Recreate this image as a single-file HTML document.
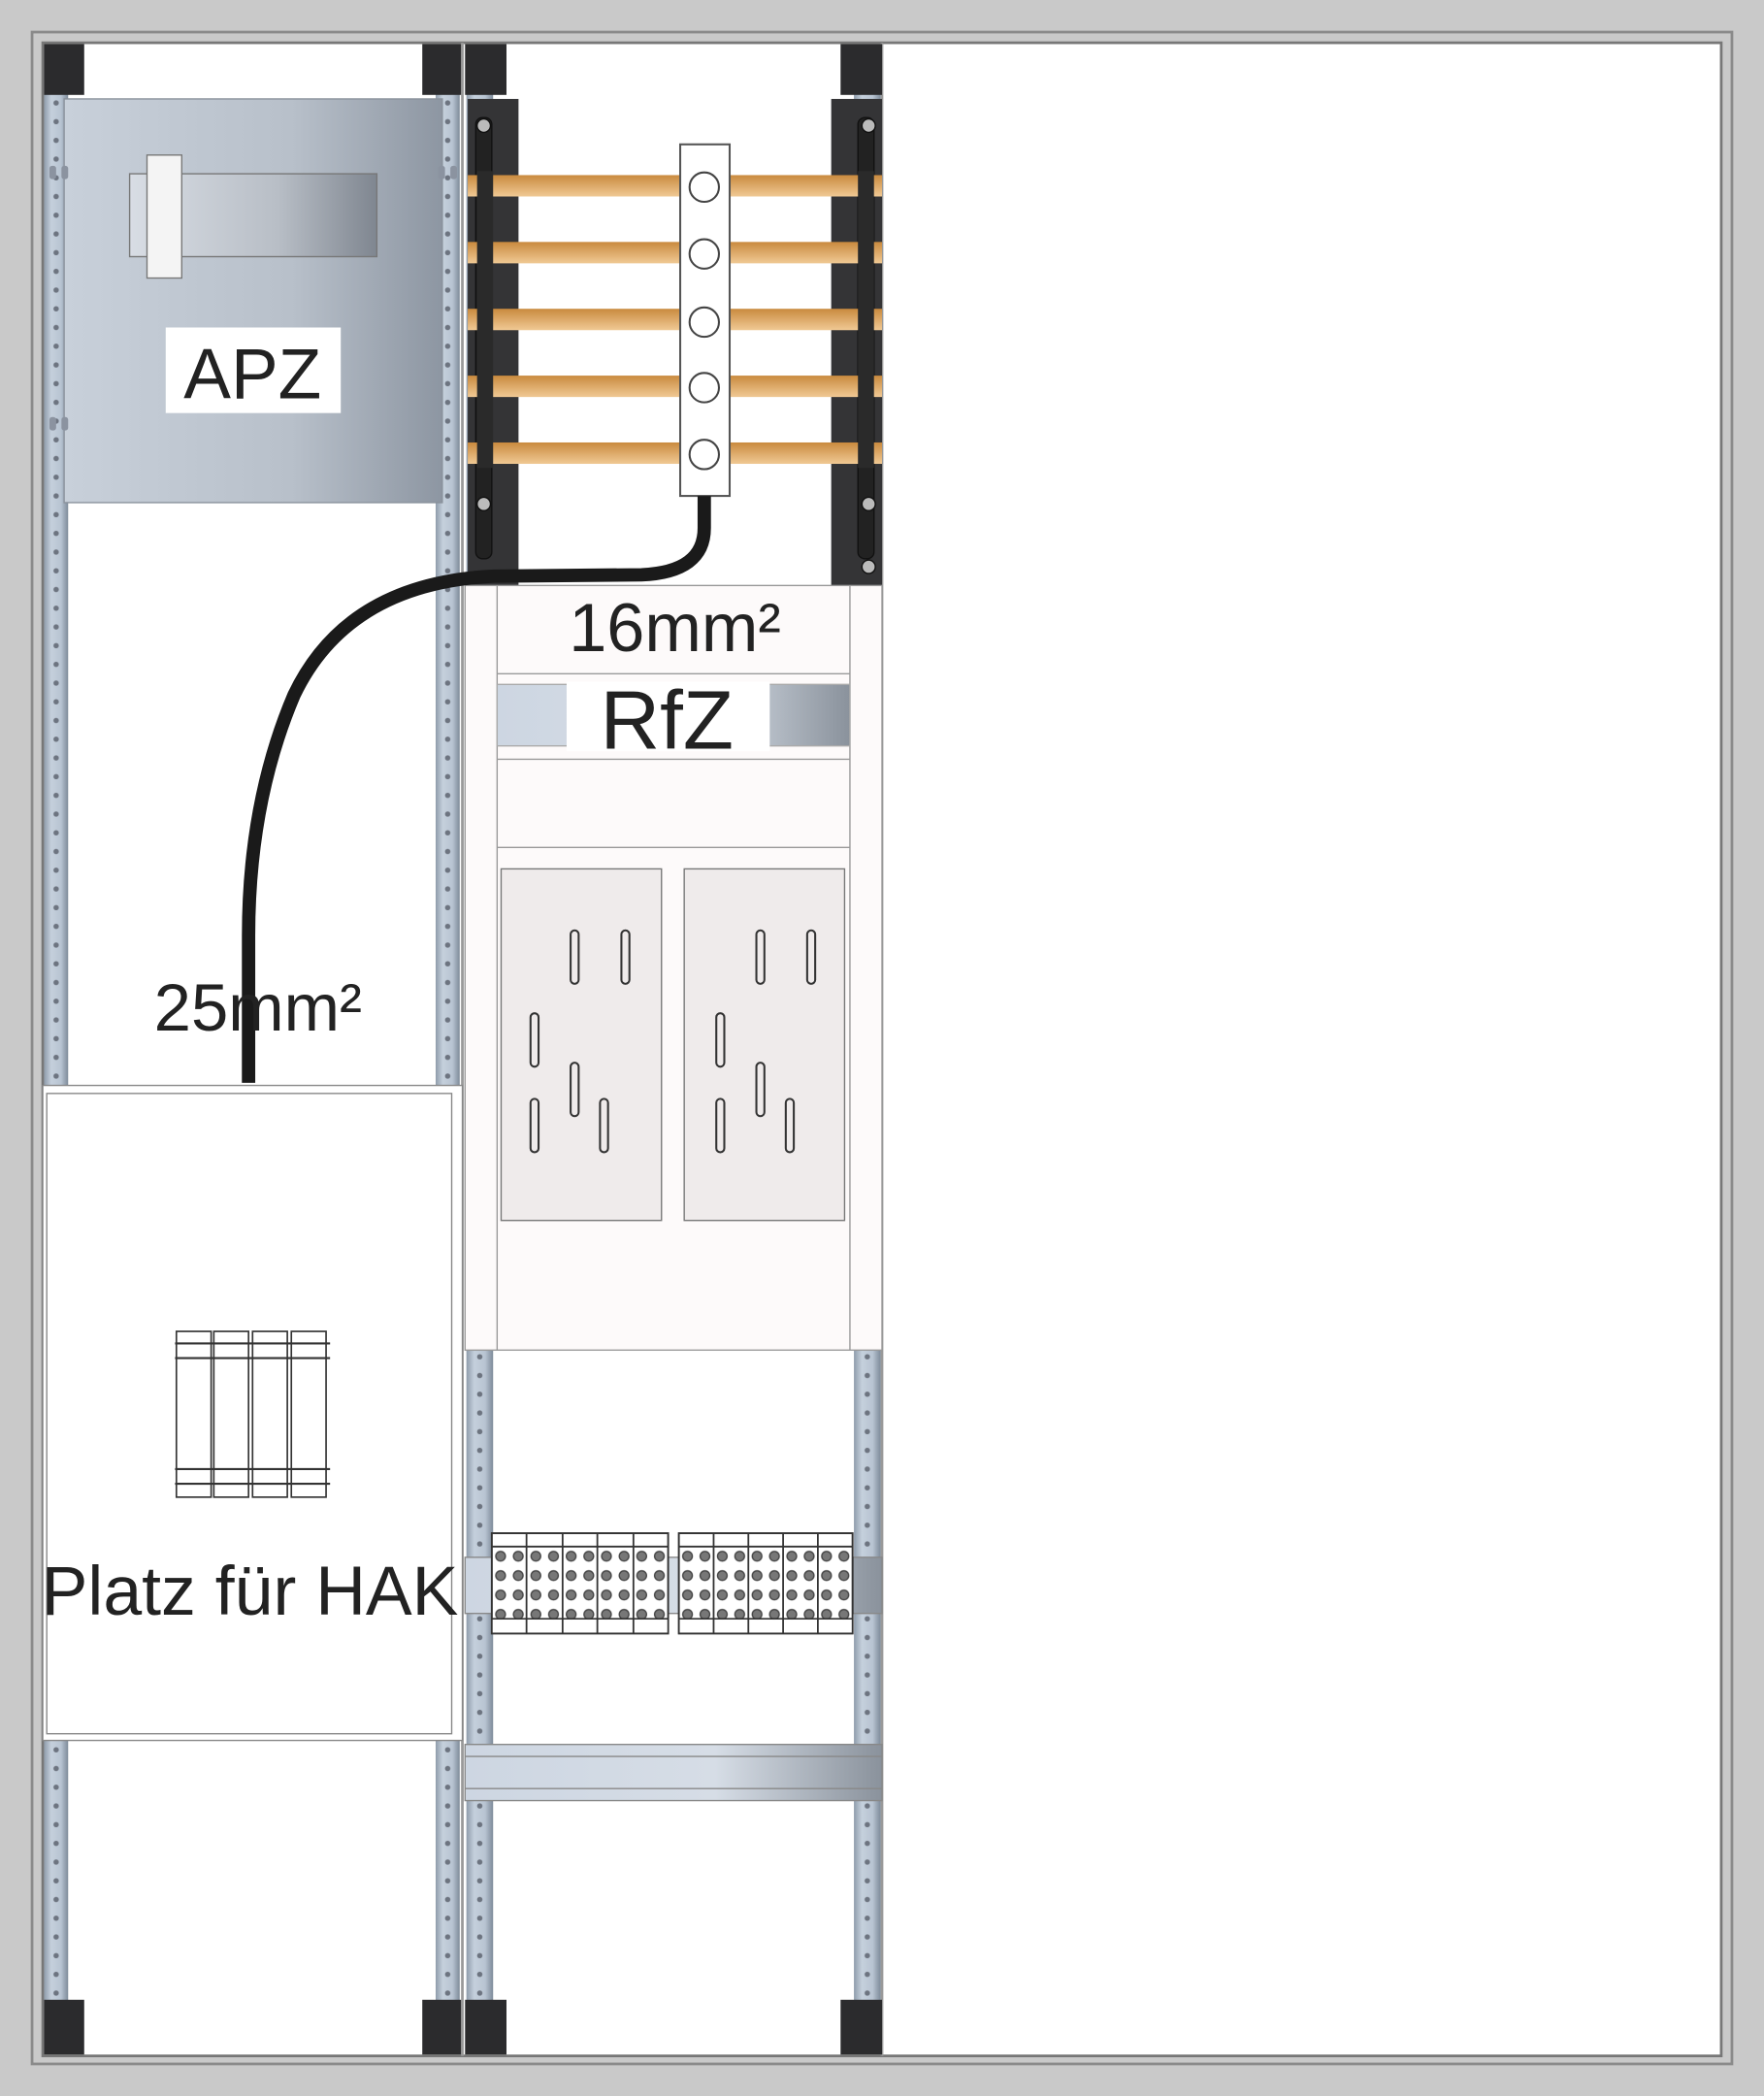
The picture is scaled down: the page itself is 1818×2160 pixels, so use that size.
<!DOCTYPE html>
<html><head><meta charset="utf-8"><style>html,body{margin:0;padding:0;background:#fff}svg{display:block}</style></head><body>
<svg width="1818" height="2160" viewBox="0 0 1320 1568" preserveAspectRatio="none" xmlns="http://www.w3.org/2000/svg" font-family="Liberation Sans, Arial, sans-serif">
<defs>
<linearGradient id="rail" x1="0" x2="1"><stop offset="0" stop-color="#8f9cab"/><stop offset=".3" stop-color="#c5d0dc"/><stop offset=".7" stop-color="#b8c4d2"/><stop offset="1" stop-color="#7d8a99"/></linearGradient>
<pattern id="perf1" x="32" y="0" width="20" height="14" patternUnits="userSpaceOnUse"><circle cx="10" cy="7" r="2" fill="#6d7480"/></pattern>
<pattern id="perf2" x="325" y="0" width="20" height="14" patternUnits="userSpaceOnUse"><circle cx="10" cy="7" r="2" fill="#6d7480"/></pattern>
<pattern id="perf3" x="349" y="0" width="20" height="14" patternUnits="userSpaceOnUse"><circle cx="10" cy="7" r="2" fill="#6d7480"/></pattern>
<pattern id="perf4" x="639" y="0" width="20" height="14" patternUnits="userSpaceOnUse"><circle cx="10" cy="7" r="2" fill="#6d7480"/></pattern>
<linearGradient id="apz" x1="0" x2="1"><stop offset="0" stop-color="#c8d0da"/><stop offset=".6" stop-color="#b8c0ca"/><stop offset="1" stop-color="#8d96a2"/></linearGradient>
<linearGradient id="apzin" x1="0" x2="1"><stop offset="0" stop-color="#d8dde4"/><stop offset=".6" stop-color="#b8bec6"/><stop offset="1" stop-color="#7f8690"/></linearGradient>
<linearGradient id="cu" x1="0" y1="0" x2="0" y2="1"><stop offset="0" stop-color="#c98a3e"/><stop offset="1" stop-color="#f0c994"/></linearGradient>
<linearGradient id="din" x1="0" x2="1"><stop offset="0" stop-color="#cdd6e2"/><stop offset=".6" stop-color="#d6dde6"/><stop offset="1" stop-color="#8a929c"/></linearGradient>
<pattern id="tdots" x="368" y="1157" width="13.2" height="14.5" patternUnits="userSpaceOnUse"><circle cx="6.6" cy="7.2" r="3.6" fill="#777" stroke="#444" stroke-width="1"/></pattern>
<pattern id="tdots2" x="508" y="1157" width="13" height="14.5" patternUnits="userSpaceOnUse"><circle cx="6.5" cy="7.2" r="3.6" fill="#777" stroke="#444" stroke-width="1"/></pattern>
</defs>
<rect x="0" y="0" width="1320" height="1568" fill="#c9c9c9"/>
<rect x="24" y="24" width="1272" height="1520" fill="none" stroke="#8a8a8a" stroke-width="2"/>
<rect x="32" y="32" width="1256" height="1506" fill="#fff" stroke="#777" stroke-width="2"/>
<line x1="346" y1="32" x2="346" y2="1538" stroke="#999" stroke-width="2"/>
<line x1="660" y1="32" x2="660" y2="1538" stroke="#999" stroke-width="2"/>
<rect x="33" y="60" width="18" height="1450" fill="url(#rail)"/>
<rect x="326" y="60" width="18" height="1450" fill="url(#rail)"/>
<rect x="349" y="60" width="20" height="1450" fill="url(#rail)"/>
<rect x="639" y="60" width="20" height="1450" fill="url(#rail)"/>
<rect x="32" y="60" width="20" height="1450" fill="url(#perf1)"/>
<rect x="325" y="60" width="20" height="1450" fill="url(#perf2)"/>
<rect x="349" y="60" width="20" height="1450" fill="url(#perf3)"/>
<rect x="639" y="60" width="20" height="1450" fill="url(#perf4)"/>
<g fill="#2b2b2d">
<rect x="33" y="33" width="30" height="38"/><rect x="316" y="33" width="29" height="38"/>
<rect x="348" y="33" width="31" height="38"/><rect x="629" y="33" width="31" height="38"/>
<rect x="33" y="1496" width="30" height="41"/><rect x="316" y="1496" width="29" height="41"/>
<rect x="348" y="1496" width="31" height="41"/><rect x="629" y="1496" width="31" height="41"/>
</g>
<rect x="48" y="74" width="283" height="302" fill="url(#apz)" stroke="#8a929c"/>
<rect x="97" y="130" width="185" height="62" fill="url(#apzin)" stroke="#777"/>
<rect x="110" y="116" width="26" height="92" fill="#f4f4f4" stroke="#777"/>
<g fill="#8b93a0"><rect x="37" y="124" width="5" height="10" rx="2"/><rect x="46" y="124" width="5" height="10" rx="2"/><rect x="37" y="312" width="5" height="10" rx="2"/><rect x="46" y="312" width="5" height="10" rx="2"/><rect x="328" y="124" width="5" height="10" rx="2"/><rect x="337" y="124" width="5" height="10" rx="2"/></g>
<rect x="124" y="245" width="131" height="64" fill="#fff"/>
<text x="189" y="298" font-size="53" text-anchor="middle" fill="#222">APZ</text>
<rect x="350" y="74" width="38" height="364" fill="#343436"/>
<rect x="622" y="74" width="38" height="364" fill="#343436"/>
<rect x="356" y="88" width="12" height="330" rx="5" fill="#222" stroke="#111"/>
<rect x="642" y="88" width="12" height="330" rx="5" fill="#222" stroke="#111"/>
<g fill="#bbb" stroke="#111"><circle cx="362" cy="377" r="5"/><circle cx="650" cy="377" r="5"/><circle cx="650" cy="424" r="5"/><circle cx="362" cy="94" r="5"/><circle cx="650" cy="94" r="5"/></g>
<g fill="url(#cu)">
<rect x="350" y="131" width="310" height="16"/><rect x="350" y="181" width="310" height="16"/><rect x="350" y="231" width="310" height="16"/><rect x="350" y="281" width="310" height="16"/><rect x="350" y="331" width="310" height="16"/>
</g>
<g fill="#2a2a2a"><rect x="357" y="128" width="12" height="222"/><rect x="642" y="128" width="12" height="222"/></g>
<rect x="509" y="108" width="37" height="263" fill="#fff" stroke="#555" stroke-width="1.5"/>
<g fill="#fff" stroke="#444" stroke-width="1.5"><circle cx="527" cy="140" r="11"/><circle cx="527" cy="190" r="11"/><circle cx="527" cy="241" r="11"/><circle cx="527" cy="290" r="11"/><circle cx="527" cy="340" r="11"/></g>
<rect x="348" y="438" width="312" height="572" fill="#fdfafa" stroke="#999"/>
<line x1="372" y1="438" x2="372" y2="1010" stroke="#999"/>
<line x1="636" y1="438" x2="636" y2="1010" stroke="#999"/>
<line x1="372" y1="504" x2="636" y2="504" stroke="#999"/>
<line x1="372" y1="568" x2="636" y2="568" stroke="#999"/>
<line x1="372" y1="634" x2="636" y2="634" stroke="#999"/>
<rect x="372" y="512" width="264" height="46" fill="url(#din)" stroke="#aaa"/>
<rect x="424" y="510" width="152" height="52" fill="#fff"/>
<text x="499" y="560" font-size="62" text-anchor="middle" fill="#222">RfZ</text>
<text x="505" y="487" font-size="51" text-anchor="middle" fill="#222">16mm²</text>
<rect x="375" y="650" width="120" height="263" fill="#efebeb" stroke="#777"/>
<rect x="512" y="650" width="120" height="263" fill="#efebeb" stroke="#777"/>
<g fill="none" stroke="#333" stroke-width="1.5">
<rect x="427" y="696" width="6" height="40" rx="3"/><rect x="465" y="696" width="6" height="40" rx="3"/><rect x="397" y="758" width="6" height="40" rx="3"/><rect x="427" y="795" width="6" height="40" rx="3"/><rect x="397" y="822" width="6" height="40" rx="3"/><rect x="449" y="822" width="6" height="40" rx="3"/>
<rect x="566" y="696" width="6" height="40" rx="3"/><rect x="604" y="696" width="6" height="40" rx="3"/><rect x="536" y="758" width="6" height="40" rx="3"/><rect x="566" y="795" width="6" height="40" rx="3"/><rect x="536" y="822" width="6" height="40" rx="3"/><rect x="588" y="822" width="6" height="40" rx="3"/>
</g>
<rect x="32" y="812" width="314" height="490" fill="#fff" stroke="#888"/>
<rect x="35" y="818" width="303" height="479" fill="#fff" stroke="#888"/>
<g fill="#fff" stroke="#333" stroke-width="1.2">
<rect x="132" y="996" width="26" height="124"/><rect x="160" y="996" width="26" height="124"/><rect x="189" y="996" width="26" height="124"/><rect x="218" y="996" width="26" height="124"/>
</g>
<g stroke="#333" stroke-width="1.5"><line x1="131" y1="1005" x2="247" y2="1005"/><line x1="131" y1="1016" x2="247" y2="1016"/><line x1="131" y1="1099" x2="247" y2="1099"/><line x1="131" y1="1110" x2="247" y2="1110"/></g>
<text x="187" y="1208" font-size="52" text-anchor="middle" fill="#222">Platz für HAK</text>
<path d="M527 371 L527 395 Q527 428 480 430 L370 431 Q260 436 220 520 Q186 600 186 700 L186 810" fill="none" stroke="#1a1a1a" stroke-width="10"/>
<text x="193" y="771" font-size="50" text-anchor="middle" fill="#222">25mm²</text>
<rect x="348" y="1165" width="312" height="42" fill="url(#din)" stroke="#888"/>
<rect x="368" y="1147" width="132" height="75" fill="#fff" stroke="#333" stroke-width="1.3"/>
<rect x="508" y="1147" width="130" height="75" fill="#fff" stroke="#333" stroke-width="1.3"/>
<rect x="368" y="1157" width="132" height="58" fill="url(#tdots)"/>
<rect x="508" y="1157" width="130" height="58" fill="url(#tdots2)"/>
<g stroke="#333" stroke-width="1.3">
<line x1="368" y1="1157" x2="500" y2="1157"/><line x1="368" y1="1211" x2="500" y2="1211"/>
<line x1="508" y1="1157" x2="638" y2="1157"/><line x1="508" y1="1211" x2="638" y2="1211"/>
<line x1="394" y1="1147" x2="394" y2="1222"/><line x1="421" y1="1147" x2="421" y2="1222"/><line x1="447" y1="1147" x2="447" y2="1222"/><line x1="474" y1="1147" x2="474" y2="1222"/>
<line x1="534" y1="1147" x2="534" y2="1222"/><line x1="560" y1="1147" x2="560" y2="1222"/><line x1="586" y1="1147" x2="586" y2="1222"/><line x1="612" y1="1147" x2="612" y2="1222"/>
</g>
<rect x="368" y="1211.6" width="132" height="10" fill="#fff"/>
<rect x="508" y="1211.6" width="130" height="10" fill="#fff"/>
<g stroke="#333" stroke-width="1.3">
<rect x="368" y="1147" width="132" height="75" fill="none"/><rect x="508" y="1147" width="130" height="75" fill="none"/>
<line x1="394" y1="1211" x2="394" y2="1222"/><line x1="421" y1="1211" x2="421" y2="1222"/><line x1="447" y1="1211" x2="447" y2="1222"/><line x1="474" y1="1211" x2="474" y2="1222"/>
<line x1="534" y1="1211" x2="534" y2="1222"/><line x1="560" y1="1211" x2="560" y2="1222"/><line x1="586" y1="1211" x2="586" y2="1222"/><line x1="612" y1="1211" x2="612" y2="1222"/>
</g>
<rect x="348" y="1305" width="312" height="42" fill="url(#din)" stroke="#888"/>
<line x1="348" y1="1314" x2="660" y2="1314" stroke="#888"/>
<line x1="348" y1="1338" x2="660" y2="1338" stroke="#888"/>
</svg>
</body></html>
